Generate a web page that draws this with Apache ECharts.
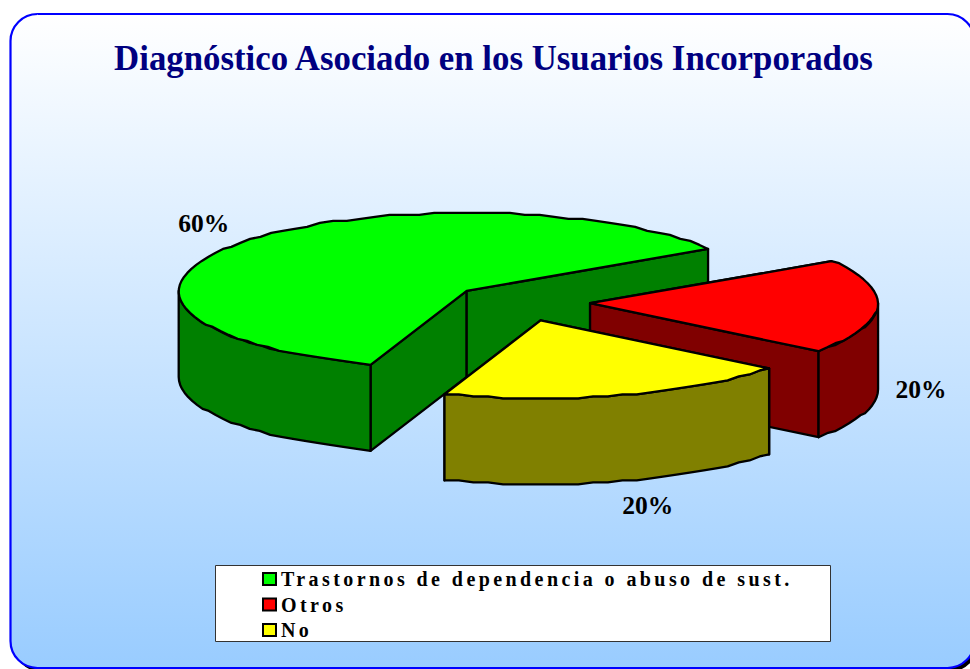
<!DOCTYPE html>
<html>
<head>
<meta charset="utf-8">
<style>
html,body{margin:0;padding:0;background:#fff;overflow:hidden}
#c{width:970px;height:669px}
/* the reference legend text is widely tracked */
#c svg text[style*="20px"]{letter-spacing:3.42px}
</style>
<script src="https://cdn.jsdelivr.net/npm/echarts@6/dist/echarts.min.js"></script>
</head>
<body>
<div id="c"></div>
<script>
const titleText = 'Diagnóstico Asociado en los Usuarios Incorporados';
const categories = ['Trastornos de dependencia o abuso de sust.', 'Otros', 'No'];
const values = [60.4, 19.6, 20];
const topColors = ['#00FF00', '#FF0000', '#FFFF00'];
const sideColors = ['#008000', '#800000', '#808000'];
const labelOffsets = [[-263, -67], [331, 86], [107, 185]];

const pie = {cx: 521, cy: 302.5, rx: 288, ry: 78, depth: 86, explode: 0.24, startDeg: 250.5, snap: 2, stepDeg: 3};
const total = values.reduce((a, b) => a + b, 0);

function sliceAngles(i) {
  let before = 0;
  for (let k = 0; k < i; k++) before += values[k];
  const a0 = pie.startDeg - before / total * 360;
  return [a0, a0 - values[i] / total * 360];
}
function rimPoint(apex, deg) {
  const t = deg * Math.PI / 180;
  const y = pie.ry * Math.sin(t);
  return [apex[0] + pie.rx * Math.cos(t), apex[1] - Math.round(y / pie.snap) * pie.snap];
}
function rimPath(apex, from, to) {
  const pts = [];
  const n = Math.max(1, Math.round(Math.abs(from - to) / pie.stepDeg));
  for (let j = 0; j <= n; j++) pts.push(rimPoint(apex, from + (to - from) * j / n));
  return pts;
}
function drop(p) { return [p[0], p[1] + pie.depth]; }

function makeRender(i) {
  return function (params, api) {
    const v = api.value(0);
    const [a0, a1] = sliceAngles(i);
    const mid = (a0 + a1) / 2 * Math.PI / 180;
    const apex = [
      pie.cx + pie.explode * pie.rx * Math.cos(mid),
      pie.cy - pie.explode * pie.ry * Math.sin(mid)
    ];
    const line = {stroke: '#000', lineWidth: 2.3, lineJoin: 'round'};
    const side = Object.assign({fill: sideColors[i]}, line);
    const top = Object.assign({fill: topColors[i]}, line);
    const poly = (points, style) => ({type: 'polygon', shape: {points}, style});
    const children = [];
    // the two cut faces
    [a0, a1].forEach(a => {
      const p = rimPoint(apex, a);
      children.push(poly([apex, p, drop(p), drop(apex)], side));
    });
    // the outer wall: only the part of the rim facing the viewer
    const ranges = [];
    for (let base = -360; base <= 360; base += 360) {
      const s = Math.min(a0, base);           // front half runs from base down to base-180
      const e = Math.max(a1, base - 180);
      if (s > e) ranges.push([s, e]);
    }
    ranges.forEach(r => {
      const upper = rimPath(apex, r[0], r[1]);
      children.push(poly(upper.concat(upper.map(drop).reverse()), side));
    });
    // the top
    children.push(poly([apex].concat(rimPath(apex, a0, a1)), top));
    // the value label
    children.push({
      type: 'text',
      x: apex[0] + labelOffsets[i][0],
      y: apex[1] + labelOffsets[i][1],
      style: {
        text: Math.round(v / total * 100) + '%',
        font: 'bold 25.5px "Liberation Serif"',
        fill: '#000',
        align: 'center',
        verticalAlign: 'middle'
      }
    });
    return {type: 'group', children};
  };
}

const chart = echarts.init(document.getElementById('c'), null, {renderer: 'svg'});
chart.setOption({
  animation: false,
  backgroundColor: '#fff',
  title: {
    text: titleText,
    left: 493.5,
    top: 58,
    textAlign: 'center',
    textVerticalAlign: 'middle',
    padding: 0,
    textStyle: {fontFamily: '"Liberation Serif"', fontWeight: 'bold', fontSize: 34.8, color: '#000080'}
  },
  legend: {
    orient: 'vertical',
    left: 262,
    top: 569,
    data: categories,
    selectedMode: false,
    icon: 'rect',
    itemWidth: 13,
    itemHeight: 12,
    itemGap: 5.5,
    padding: 0,
    itemStyle: {borderColor: '#000', borderWidth: 2},
    textStyle: {fontFamily: '"Liberation Serif"', fontWeight: 'bold', fontSize: 20, color: '#000'}
  },
  graphic: {
    elements: [
      {type: 'rect', z: 0, shape: {x: 13.5, y: 17.5, width: 964, height: 654, r: 27}, style: {fill: '#000'}},
      {type: 'rect', z: 0, shape: {x: 10.5, y: 14, width: 964, height: 654, r: 27},
        style: {
          fill: new echarts.graphic.LinearGradient(0, 0, 0, 1, [
            {offset: 0, color: '#FFFFFF'},
            {offset: 1, color: '#99CCFF'}
          ]),
          stroke: '#0000FF', lineWidth: 2.2
        }},
      {type: 'rect', z: 0, shape: {x: 215.5, y: 565.5, width: 615, height: 76},
        style: {fill: '#fff', stroke: '#333', lineWidth: 1}}
    ]
  },
  series: categories.map((name, i) => ({
    type: 'custom',
    name,
    coordinateSystem: 'none',
    itemStyle: {color: topColors[i]},
    renderItem: makeRender(i),
    data: [[values[i]]]
  }))
});
</script>
</body>
</html>
